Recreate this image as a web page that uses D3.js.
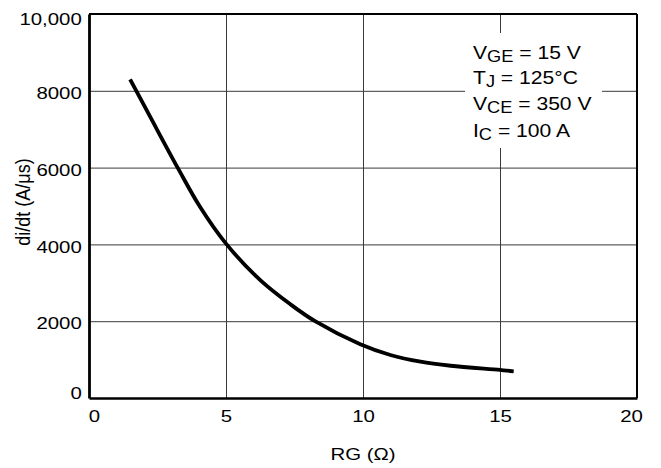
<!DOCTYPE html>
<html>
<head>
<meta charset="utf-8">
<script src="https://cdn.jsdelivr.net/npm/d3@7"></script>
<style>
  html, body { margin: 0; padding: 0; background: #fff; }
  svg { display: block; }
  text { font-family: "Liberation Sans", Arial, Helvetica, sans-serif; fill: #000; }
</style>
</head>
<body>
<svg id="chart" width="661" height="468"></svg>
<script>
// ---- data ----
const rgValues   = [1.5, 2.25, 3.25, 4.05, 5.0, 6.25, 7.35, 8.25, 9.9, 11.0, 12.1, 13.2, 15.0, 15.5];
const didtValues = [8300, 7300, 5980, 4980, 4020, 3070, 2440, 2000, 1400, 1120, 945, 840, 730, 695];
const xTicks = [0, 5, 10, 15, 20];
const yTicks = [0, 2000, 4000, 6000, 8000, 10000];
const yTickLabels = ["0", "2000", "4000", "6000", "8000", "10,000"];
const xLabel = "RG (Ω)";
const yLabel = "di/dt (A/μs)";
const conditions = [
  ["V", "GE", " = 15 V"],
  ["T", "J", " = 125°C"],
  ["V", "CE", " = 350 V"],
  ["I", "C", " = 100 A"]
];

// ---- layout ----
const svg = d3.select("#chart");
const L = 89, R = 637, T = 14, B = 398;
const x = d3.scaleLinear().domain([0, 20]).range([L, R]);
const y = d3.scaleLinear().domain([0, 10000]).range([B, T]);
const HS = 1.2; // horizontal stretch of the reference lettering

// grid lines
svg.append("g").attr("transform", `translate(0,${B})`)
  .call(d3.axisBottom(x).tickValues(xTicks.slice(1, -1)).tickSize(-(B - T)).tickFormat(""))
  .call(g => g.select(".domain").remove())
  .call(g => g.selectAll("line").attr("stroke", "#3a3a3a").attr("stroke-width", 1));
svg.append("g").attr("transform", `translate(${L},0)`)
  .call(d3.axisLeft(y).tickValues(yTicks.slice(1, -1)).tickSize(-(R - L)).tickFormat(""))
  .call(g => g.select(".domain").remove())
  .call(g => g.selectAll("line").attr("stroke", "#3a3a3a").attr("stroke-width", 1));

// frame
svg.append("line").attr("x1", L).attr("x2", R).attr("y1", T).attr("y2", T).attr("stroke", "#000").attr("stroke-width", 2);
svg.append("line").attr("x1", R).attr("x2", R).attr("y1", T).attr("y2", B).attr("stroke", "#000").attr("stroke-width", 2);

// axes with labels
const xAxis = svg.append("g").attr("transform", `translate(0,${B})`)
  .call(d3.axisBottom(x).tickValues(xTicks).tickSize(0).tickPadding(12).tickFormat(d3.format("d")));
xAxis.select(".domain").attr("stroke", "#000").attr("stroke-width", 2.6);
const xShift = {0: 5, 20: -6};
xAxis.selectAll(".tick text")
  .attr("font-size", 17).attr("font-family", null).attr("y", 0).attr("dy", 24)
  .attr("transform", d => `translate(${xShift[d] || 0},0) scale(${HS},1)`);

const yAxis = svg.append("g").attr("transform", `translate(${L},0)`)
  .call(d3.axisLeft(y).tickValues(yTicks).tickSize(0).tickPadding(6)
    .tickFormat((d, i) => yTickLabels[i]));
yAxis.select(".domain").attr("stroke", "#000").attr("stroke-width", 2.8);
const yShift = {0: -5.5, 10000: 4};
yAxis.selectAll(".tick text")
  .attr("font-size", 17).attr("font-family", null).attr("dy", "0.36em")
  .attr("transform", d => `translate(0,${yShift[d] !== undefined ? yShift[d] : 1.5}) scale(${HS},1)`);

// axis titles
svg.append("text")
  .attr("transform", `translate(${(L + R) / 2},460) scale(${HS},1)`)
  .attr("text-anchor", "middle").attr("font-size", 17).text(xLabel);
svg.append("text")
  .attr("transform", `translate(30,202) scale(1.12,1) rotate(-90)`)
  .attr("text-anchor", "middle").attr("font-size", 18).text(yLabel);

// curve
const pts = rgValues.map((v, i) => [v, didtValues[i]]);
svg.append("path").datum(pts)
  .attr("fill", "none").attr("stroke", "#000").attr("stroke-width", 3.8)
  .attr("stroke-linecap", "butt")
  .attr("d", d3.line().x(d => x(d[0])).y(d => y(d[1])).curve(d3.curveCatmullRom.alpha(0.5)));

// conditions box
svg.append("rect").attr("x", 465).attr("y", 33).attr("width", 137).attr("height", 115).attr("fill", "#fff");
const baselines = [58.5, 84, 110, 136.5];
conditions.forEach((c, i) => {
  const t = svg.append("text")
    .attr("transform", `translate(473,${baselines[i]}) scale(1.14,1)`)
    .attr("font-size", 18.5);
  t.append("tspan").text(c[0]);
  t.append("tspan").attr("font-size", 16).attr("dy", 3).text(c[1]);
  t.append("tspan").attr("dy", -3).text(c[2]);
});
</script>
</body>
</html>
